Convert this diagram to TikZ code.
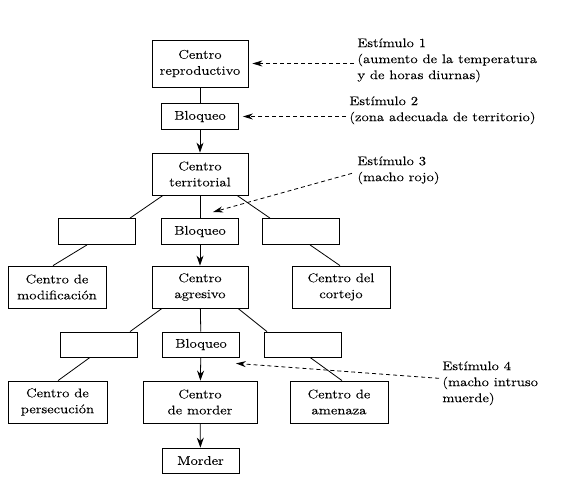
\documentclass[tikz,border=0pt]{standalone}
\usepackage{fontspec}
\setmainfont{Latin Modern Roman}[FakeStretch=1.19, FakeBold=0.2]
\usepackage{tikz}
\usetikzlibrary{arrows.meta}

\begin{document}
\begin{tikzpicture}[x=1pt, y=-1pt, line width=0.8pt,
    txt/.style={font=\fontsize{12.5}{16}\selectfont},
    box/.style={draw, txt, align=center, inner sep=0pt},
    bigbox/.style={box, minimum width=96pt, minimum height=42pt},
    smallbox/.style={box, minimum width=77pt, minimum height=26pt},
    tip/.style={-{Stealth[length=10pt, width=7pt]}},
    stim/.style={dashed, dash pattern=on 4pt off 3pt, -{Stealth[length=10pt, width=6pt]}}]
    \useasboundingbox (0,0) rectangle (572,480);

    % Boxes, top to bottom
    \node[bigbox, minimum height=47pt] (repro) at (200,63.5) {Centro\\reproductivo};
    \node[smallbox] (blq1) at (200,116.5) {Bloqueo};
    \node[bigbox] (terr) at (200,174) {Centro\\territorial};
    \node[smallbox] (emptyL) at (97,231.5) {};
    \node[smallbox] (blq2) at (200,231.5) {Bloqueo};
    \node[smallbox] (emptyR) at (301,231.5) {};
    \node[bigbox, minimum width=98pt] (modif) at (57,287) {Centro de\\modificación};
    \node[bigbox] (agres) at (200,287) {Centro\\agresivo};
    \node[bigbox, minimum width=98pt] (cortejo) at (341,287) {Centro del\\cortejo};
    \node[smallbox, minimum height=25pt] (emptyL2) at (99,344.5) {};
    \node[smallbox, minimum height=25pt] (blq3) at (201,344.5) {Bloqueo};
    \node[smallbox, minimum height=25pt] (emptyR2) at (303,344.5) {};
    \node[bigbox, minimum width=99pt] (persec) at (57.5,402) {Centro de\\persecución};
    \node[bigbox, minimum width=114pt] (morder) at (200,402) {Centro\\de morder};
    \node[bigbox, minimum width=98pt] (amenaza) at (339,402) {Centro de\\amenaza};
    \node[smallbox, minimum height=25pt] (fin) at (200.5,460.5) {Morder};

    % Stimuli
    \node[txt, align=left, anchor=north west, inner sep=0pt] (est1) at (357,38)
        {Estímulo 1\\(aumento de la temperatura\\y de horas diurnas)};
    \node[txt, align=left, anchor=north west, inner sep=0pt] (est2) at (349,96)
        {Estímulo 2\\(zona adecuada de territorio)};
    \node[txt, align=left, anchor=north west, inner sep=0pt] (est3) at (357,156)
        {Estímulo 3\\(macho rojo)};
    \node[txt, align=left, anchor=north west, inner sep=0pt] (est4) at (442,361)
        {Estímulo 4\\(macho intruso\\muerde)};

    % Main chain
    \draw (repro) -- (blq1);
    \draw[tip] (blq1) -- (terr);
    \draw (terr) -- (blq2);
    \draw[tip] (blq2) -- (agres);
    \draw (agres) -- (blq3);
    \draw[tip] (blq3) -- (morder);
    \draw[tip] (morder) -- (fin);

    % Side branches
    \draw ([xshift=-37pt]terr.south) -- ([xshift=33pt]emptyL.north);
    \draw ([xshift=37pt]terr.south) -- ([xshift=-31pt]emptyR.north);
    \draw ([xshift=-10pt]emptyL.south) -- ([xshift=-4pt]modif.north);
    \draw ([xshift=9pt]emptyR.south) -- ([xshift=-1pt]cortejo.north);
    \draw ([xshift=-38pt]agres.south) -- ([xshift=31pt]emptyL2.north);
    \draw ([xshift=38pt]agres.south) -- ([xshift=-36pt]emptyR2.north);
    \draw ([xshift=-9pt]emptyL2.south) -- ([xshift=0.5pt]persec.north);
    \draw ([xshift=7pt]emptyR2.south) -- ([xshift=3pt]amenaza.north);

    % Stimulus arrows
    \draw[stim] ([xshift=-3pt]est1.west |- repro.east) -- ([xshift=4pt]repro.east);
    \draw[stim] ([xshift=-3pt]est2.west |- blq1.east) -- ([xshift=4pt]blq1.east);
    \draw[stim] ([xshift=-5pt, yshift=-3pt]est3.west) -- ([xshift=-26pt, yshift=6pt]blq2.north east);
    \draw[stim] ([xshift=-3pt, yshift=5pt]est4.west) -- ([xshift=-4pt, yshift=-6pt]blq3.south east);
\end{tikzpicture}
\end{document}
